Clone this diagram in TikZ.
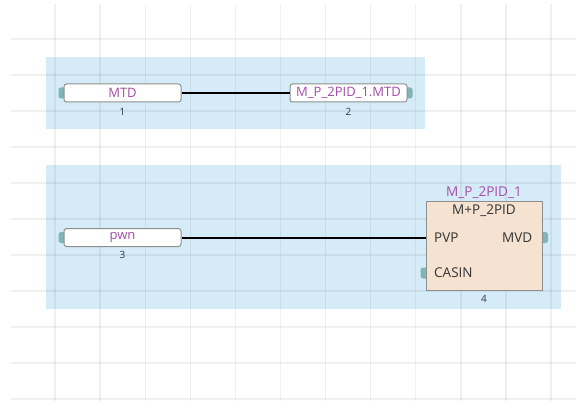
\documentclass[tikz,border=0pt]{standalone}
\usepackage{fontspec}
\setmainfont{Open Sans}
\definecolor{regionblue}{HTML}{D5EBF7}
\definecolor{pinteal}{HTML}{7FB5B2}
\definecolor{boxgray}{HTML}{8E8E8E}
\definecolor{varpurple}{HTML}{A64CA6}
\definecolor{fbfill}{HTML}{F5E2D0}
\definecolor{txtdark}{HTML}{333333}
\begin{document}
\begin{tikzpicture}[x=1pt,y=-1pt,
  region/.style={fill=regionblue,draw=none},
  gridline/.style={draw=black,draw opacity=0.06,line width=1.3pt},
  varbox/.style={draw=boxgray,fill=white,line width=1pt,rounded corners=2.5pt,
    minimum width=117pt,minimum height=18pt,inner sep=0pt,
    font=\fontsize{13}{13}\selectfont,text=varpurple},
  fbbox/.style={draw=boxgray,fill=fbfill,line width=1pt,
    minimum width=116pt,minimum height=88pt,inner sep=0pt},
  pin/.style={fill=pinteal,draw=none,rounded corners=2.5pt,minimum width=11pt,minimum height=11pt,inner sep=0pt},
  numlbl/.style={font=\fontsize{10}{10}\selectfont,text=txtdark,inner sep=0pt},
  fbtxt/.style={font=\fontsize{13.5}{13.5}\selectfont,text=txtdark,inner sep=0pt},
  wire/.style={draw=black,line width=2pt}]
\useasboundingbox (0,0) rectangle (576,401);
\fill[white] (0,0) rectangle (576,401);
% regions
\path[region] (46,57) rectangle (425,129);
\path[region] (46,165) rectangle (561,309);
% grid
\foreach \k in {0,...,10}{\path[gridline] (11,39+36*\k) -- (576,39+36*\k);}
\foreach \k in {0,...,11}{\path[gridline] (55+45.1*\k,4) -- (55+45.1*\k,401);}
% pins
\node[pin] (p1) at (64,93) {};
\node[pin] (p2) at (407,93) {};
\node[pin] (p3) at (64,237.5) {};
\node[pin] (p4) at (542.5,237.5) {};
\node[pin] (p5) at (426,273) {};
% variable boxes
\node[varbox] (mtd) at (122.5,93) {MTD};
\node[varbox] (mpmtd) at (348.5,93) {M\_P\_2PID\_1.MTD};
\node[varbox] (pwn) at (122.5,237.5) {pwn};
\node[numlbl] (n1) at (122.5,111.5) {1};
\node[numlbl] (n2) at (348.5,111.5) {2};
\node[numlbl] (n3) at (122.5,255) {3};
% function block
\node[fbbox] (fb) at (484,246) {};
\node[font=\fontsize{13.5}{13.5}\selectfont,text=varpurple,inner sep=0pt] (fbname) at (484,193) {M\_P\_2PID\_1};
\node[fbtxt] (fbtype) at (484,211) {M+P\_2PID};
\node[fbtxt,anchor=west] (pvp) at (434,237.5) {PVP};
\node[fbtxt,anchor=east] (mvd) at (532.5,237.5) {MVD};
\node[fbtxt,anchor=west] (casin) at (434,273) {CASIN};
\node[numlbl] (n4) at (484,298.5) {4};
\coordinate (pvpin) at (fb.west |- pvp);
% wires
\draw[wire] (mtd.east) -- (mpmtd.west);
\draw[wire] (pwn.east) -- (pvpin);
\end{tikzpicture}
\end{document}
